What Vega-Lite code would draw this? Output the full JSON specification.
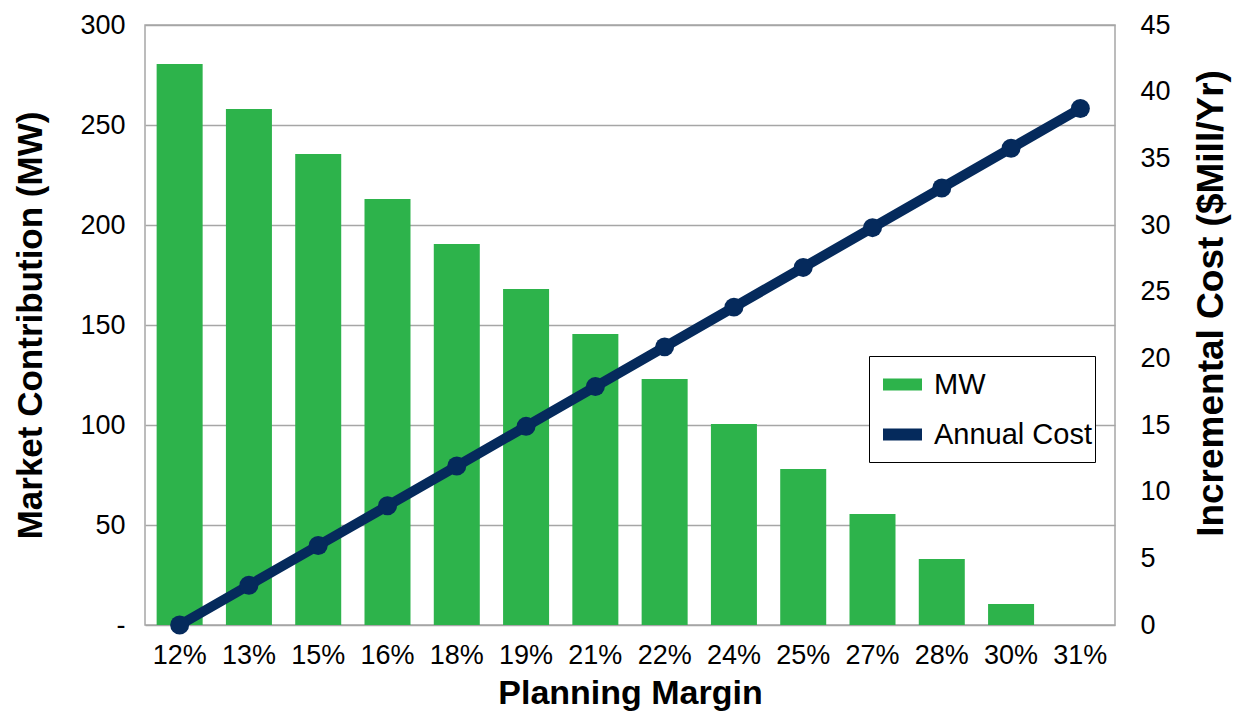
{
  "$schema": "https://vega.github.io/schema/vega-lite/v6.json",
  "autosize": {"type": "none"},
  "padding": {"left": 145, "top": 25, "right": 123, "bottom": 96},
  "width": 970,
  "height": 600,
  "background": "white",
  "config": {
    "font": "Liberation Sans",
    "view": {"stroke": "#A6A6A6", "strokeWidth": 1.5},
    "axis": {"labelFont": "Liberation Sans", "titleFont": "Liberation Sans", "labelColor": "black", "titleColor": "black", "ticks": false, "tickSize": 0, "domain": false}
  },
  "data": {
    "values": [
      {"margin": "12%", "mw": 280.5, "cost": 0},
      {"margin": "13%", "mw": 258, "cost": 2.98},
      {"margin": "15%", "mw": 235.5, "cost": 5.96},
      {"margin": "16%", "mw": 213, "cost": 8.94},
      {"margin": "18%", "mw": 190.5, "cost": 11.92},
      {"margin": "19%", "mw": 168, "cost": 14.9},
      {"margin": "21%", "mw": 145.5, "cost": 17.88},
      {"margin": "22%", "mw": 123, "cost": 20.86},
      {"margin": "24%", "mw": 100.5, "cost": 23.84},
      {"margin": "25%", "mw": 78, "cost": 26.82},
      {"margin": "27%", "mw": 55.5, "cost": 29.8},
      {"margin": "28%", "mw": 33, "cost": 32.78},
      {"margin": "30%", "mw": 10.5, "cost": 35.76},
      {"margin": "31%", "mw": 0, "cost": 38.74}
    ]
  },
  "encoding": {
    "x": {
      "field": "margin", "type": "ordinal", "sort": null,
      "scale": {"paddingInner": 0.336, "paddingOuter": 0.168},
      "axis": {"title": "Planning Margin", "labelAngle": 0, "labelFontSize": 27, "labelPadding": 17, "titleFontSize": 34, "titleFontWeight": "bold", "titlePadding": 8}
    }
  },
  "layer": [
    {
      "mark": {"type": "bar"},
      "encoding": {
        "y": {
          "field": "mw", "type": "quantitative",
          "scale": {"domain": [0, 300]},
          "axis": {"title": "Market Contribution (MW)", "values": [0, 50, 100, 150, 200, 250, 300], "labelExpr": "datum.value == 0 ? '-' : datum.label", "labelFontSize": 27, "labelPadding": 20, "titleFontSize": 35, "titleFontWeight": "bold", "titlePadding": 31, "grid": true, "gridColor": "#A6A6A6", "gridWidth": 1.5}
        },
        "color": {
          "datum": "MW",
          "scale": {"domain": ["MW", "Annual Cost"], "range": ["#2DB34B", "#052A5C"]},
          "legend": {
            "title": null, "orient": "none", "legendX": 724, "legendY": 331,
            "symbolType": "stroke", "symbolSize": 1521, "symbolStrokeWidth": 12, "symbolOffset": 5,
            "labelFontSize": 29, "labelFont": "Liberation Sans", "labelColor": "black", "labelOffset": 6,
            "rowPadding": -2, "padding": 3, "strokeColor": "black", "fillColor": "white"
          }
        }
      }
    },
    {
      "mark": {"type": "line", "strokeWidth": 10, "point": {"size": 360, "filled": true, "opacity": 1}},
      "encoding": {
        "y": {
          "field": "cost", "type": "quantitative",
          "scale": {"domain": [0, 45]},
          "axis": {"orient": "right", "title": "Incremental Cost  ($Mill/Yr)", "titleAngle": 270, "titleY": 278, "values": [0, 5, 10, 15, 20, 25, 30, 35, 40, 45], "labelFontSize": 27, "labelPadding": 25, "titleFontSize": 37, "titleFontWeight": "bold", "titlePadding": 60, "grid": false}
        },
        "color": {"datum": "Annual Cost"}
      }
    }
  ],
  "resolve": {"scale": {"y": "independent"}}
}
